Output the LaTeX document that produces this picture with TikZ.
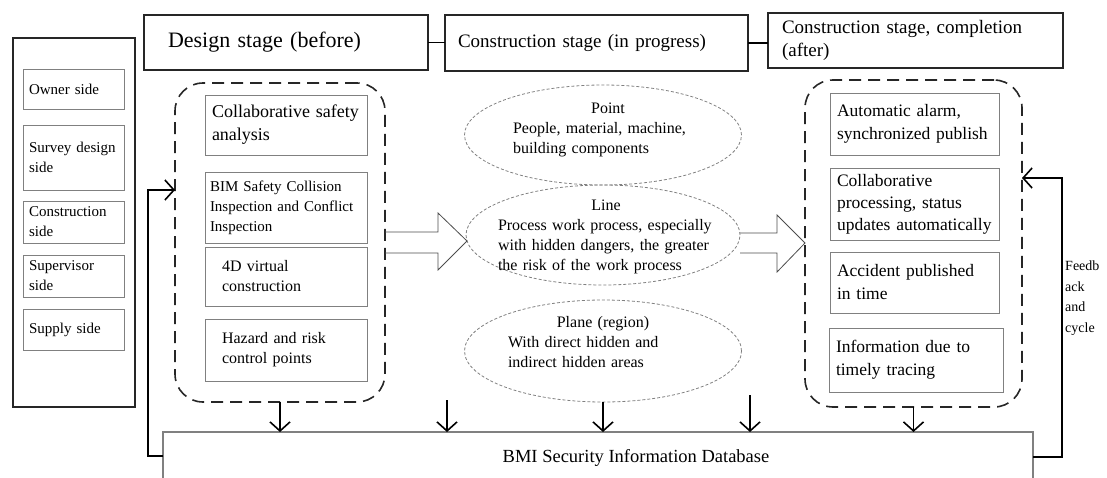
\documentclass[tikz,border=0pt]{standalone}
\usepackage{fontspec}
\setmainfont{Liberation Serif}
\usetikzlibrary{shapes.geometric, arrows.meta}
\hyphenpenalty=10000
\exhyphenpenalty=10000
\tikzstyle{panel} = [rectangle, draw=black!85, line width=1.6pt, anchor=north west, outer sep=0pt]
\tikzstyle{stage} = [rectangle, draw=black!85, line width=1.6pt, anchor=north west, align=left, outer sep=0pt, font=\fontsize{19}{23}\selectfont]
\tikzstyle{party} = [rectangle, draw=gray, line width=1pt, anchor=north west, outer sep=0pt, text width=89pt, inner xsep=6pt, align=left, font=\fontsize{15}{20}\selectfont]
\tikzstyle{zone} = [rectangle, rounded corners=28pt, draw=black!85, line width=1.6pt, dash pattern=on 12pt off 7pt, anchor=north west, outer sep=0pt]
\tikzstyle{task} = [rectangle, draw=gray, line width=1pt, anchor=north west, outer sep=0pt, align=left]
\tikzstyle{spot} = [ellipse, draw=gray, dash pattern=on 3pt off 2pt, line width=0.8pt, outer sep=0pt]
\tikzstyle{note} = [align=left, font=\fontsize{16}{20}\selectfont]
\tikzstyle{bigarrow} = [draw=black!70, line width=0.8pt]
\tikzstyle{arrow} = [line width=1.6pt, -{Straight Barb[length=9pt,width=20pt]}]
\tikzstyle{link} = [line width=1.6pt]

\begin{document}
\begin{tikzpicture}[x=1pt, y=-1pt]
\useasboundingbox (0,0) rectangle (1107,477);
\clip (0,0) rectangle (1107,477);

\node (parties) [panel, minimum width=122pt, minimum height=369pt] at (13,38) {};
\node (owner) [party, minimum height=40pt] at (23,69) {Owner side};
\node (survey) [party, minimum height=65pt] at (23,125) {Survey design\\side};
\node (builder) [party, minimum height=42pt] at (23,201) {Construction\\side};
\node (supervisor) [party, minimum height=42pt] at (23,255) {Supervisor\\side};
\node (supplier) [party, minimum height=41pt] at (23,309) {Supply side};

\node (before) [stage, minimum height=55pt, text width=236pt, inner xsep=24pt, font=\fontsize{22}{26}\selectfont] at (144,15) {Design stage (before)};
\node (during) [stage, minimum height=56pt, text width=277pt, inner xsep=13pt] at (445,15) {Construction stage (in progress)};
\node (after) [stage, minimum height=55pt, text width=267pt, inner xsep=14pt] at (768,13) {Construction stage, completion\\(after)};

\node (design) [zone, minimum width=210pt, minimum height=319pt] at (175,83) {};
\node (analysis) [task, text width=148pt, inner xsep=7pt, minimum height=60pt, font=\fontsize{18}{23}\selectfont] at (205,95) {Collaborative safety\\analysis};
\node (collision) [task, text width=152pt, inner xsep=5pt, minimum height=71pt, font=\fontsize{15}{20}\selectfont] at (205,172) {BIM Safety Collision\\Inspection and Conflict\\Inspection};
\node (virtual) [task, text width=128pt, inner xsep=17pt, minimum height=59pt, font=\fontsize{16}{20}\selectfont] at (205,247) {4D virtual\\construction};
\node (hazard) [task, text width=128pt, inner xsep=17pt, minimum height=62pt, font=\fontsize{16}{20}\selectfont] at (205,319) {Hazard and risk\\control points};

\node (point) [spot, minimum width=277pt, minimum height=100pt] at (603,135) {};
\node (pointtext) [note, text width=190pt, xshift=5pt, yshift=5pt] at (point.center) {\makebox[\linewidth]{Point}\\People, material, machine,\\building components};
\node (line) [spot, minimum width=274pt, minimum height=100pt] at (603,235) {};
\node (linetext) [note, text width=216pt, xshift=3pt, yshift=-2pt] at (line.center) {\makebox[\linewidth]{Line}\\Process work process, especially\\with hidden dangers, the greater\\the risk of the work process};
\node (plane) [spot, minimum width=277pt, minimum height=102pt] at (603,351) {};
\node (planetext) [note, text width=190pt, yshift=9pt] at (plane.center) {\makebox[\linewidth]{Plane (region)}\\With direct hidden and\\indirect hidden areas};

\node (finish) [zone, minimum width=217pt, minimum height=327pt] at (805,80) {};
\node (alarm) [task, text width=155pt, inner xsep=7pt, minimum height=62pt, font=\fontsize{17.5}{23}\selectfont] at (830,93) {Automatic alarm,\\synchronized publish};
\node (status) [task, text width=155pt, inner xsep=7pt, minimum height=72pt, font=\fontsize{17.5}{22}\selectfont] at (830,168) {Collaborative\\processing, status\\updates automatically};
\node (publish) [task, text width=155pt, inner xsep=7pt, minimum height=61pt, font=\fontsize{17.5}{23}\selectfont] at (830,252) {Accident published\\in time};
\node (tracing) [task, text width=160pt, inner xsep=7pt, minimum height=64pt, font=\fontsize{17.5}{23}\selectfont] at (829,328) {Information due to\\timely tracing};

\node (db) [rectangle, draw=gray, line width=1.2pt, anchor=north west, outer sep=0pt, minimum width=870pt, minimum height=60pt] at (163,432) {};
\node (dbtext) [font=\fontsize{18.5}{22}\selectfont, xshift=38pt, yshift=4pt] at (db.center) {BMI Security Information Database};
\node (loop) [anchor=west, align=left, inner sep=0pt, font=\fontsize{14}{20.5}\selectfont] at (1065,298) {Feedb\\ack\\and\\cycle};

\coordinate (gapa) at (447,400);
\coordinate (gapb) at (750,395);
\coordinate (backin) at (design.west |- 0,190);
\coordinate (loopin) at (finish.east |- 0,178);

\draw [link] (before.east) -- (before.east -| during.west);
\draw [link] (during.east) -- (during.east -| after.west);
\draw [bigarrow] (design.east |- 0,232) -- (438,232) -- (438,213) -- (467,241) -- (438,270) -- (438,253) -- (design.east |- 0,253);
\draw [bigarrow] (line.east |- 0,233) -- (777,233) -- (777,215) -- (finish.west |- 0,243) -- (777,272) -- (777,253) -- (line.east |- 0,253);
\draw [arrow] (design.south) -- (design.south |- db.north);
\draw [arrow] (gapa) -- (gapa |- db.north);
\draw [arrow] (plane.south) -- (plane.south |- db.north);
\draw [arrow] (gapb) -- (gapb |- db.north);
\draw [arrow] (finish.south) -- (finish.south |- db.north);
\draw [arrow] ([yshift=6pt]db.west) -- ++(-15,0) |- (backin);
\draw [arrow] ([yshift=5pt]db.east) -- ++(29,0) |- (loopin);

\end{tikzpicture}
\end{document}
